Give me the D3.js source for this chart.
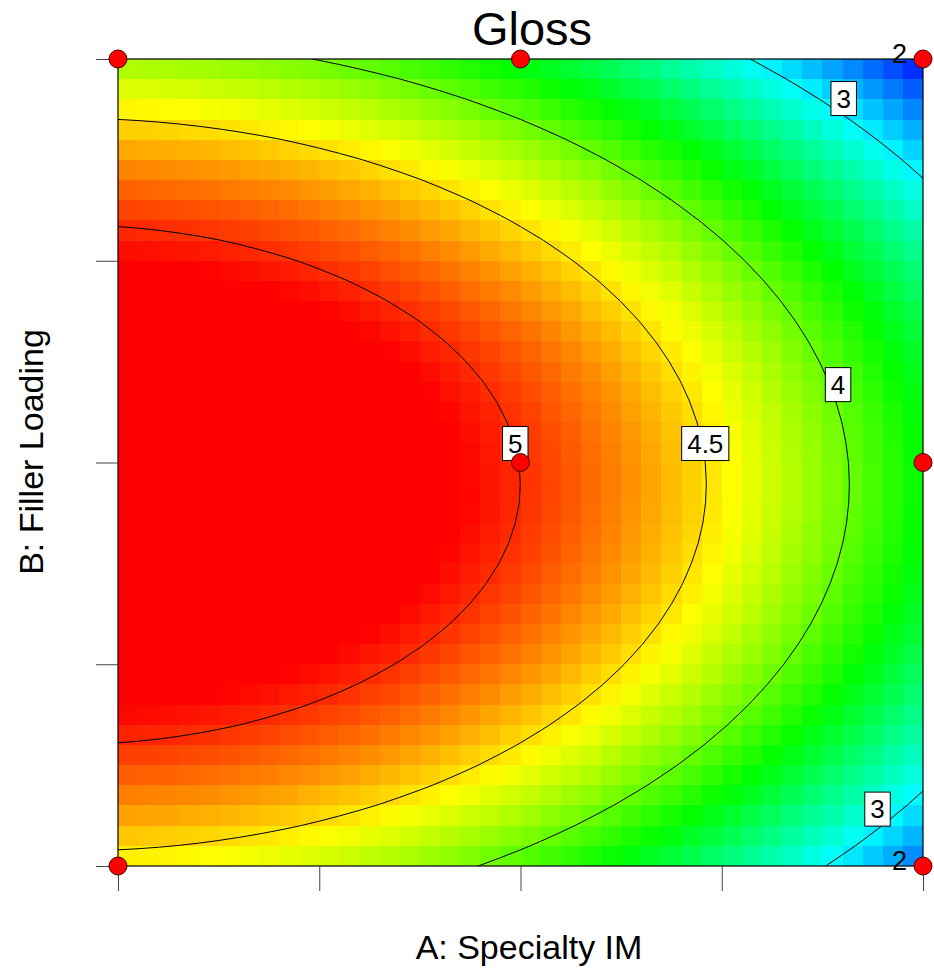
<!DOCTYPE html>
<html>
<head>
<meta charset="utf-8">
<script src="https://cdn.jsdelivr.net/npm/d3@7"></script>
<style>
  body { margin: 0; background: #fff; }
  text { font-family: "Liberation Sans", Arial, Helvetica, sans-serif; fill: #000; }
</style>
</head>
<body>
<div id="chart"></div>
<script>
// fitted response surface for Gloss, coded units (-1..1)
const terms = ["Intercept", "A", "B", "AB", "A^2", "B^2"];
const coefficients = [4.996, -0.898, -0.134, 0, -0.398, -1.22];

// contour lines and where their labels sit (coded A, B)
const contourLevels = [3, 4, 4.5, 5];
const labelText = ["3", "3", "4", "4.5", "5"];
const labelA = [0.803, 0.887, 0.789, 0.459, -0.013];
const labelB = [0.902, -0.859, 0.193, 0.047, 0.047];

// design points, with number of replicate runs
const designA = [-1, 0, 1, 1, 0, -1, 1];
const designB = [1, 1, 1, 0, 0, -1, -1];
const replicates = [1, 1, 2, 1, 1, 1, 2];

const axisTicks = [-1, -0.5, 0, 0.5, 1];
const colorDomain = [2.32, 5.12];
const colorRange = ["#0000ff", "#00ffff", "#00ff00", "#ffff00", "#ff0000"];
const gridSize = 40;

const width = 934, height = 968;
const plot = { left: 118, right: 923, top: 59, bottom: 866 };

const svg = d3.select("#chart").append("svg")
    .attr("width", width)
    .attr("height", height);

const x = d3.scaleLinear().domain([-1, 1]).range([plot.left, plot.right]);
const y = d3.scaleLinear().domain([-1, 1]).range([plot.bottom, plot.top]);

const stops = colorRange.map((c, i) => colorDomain[0] + i * (colorDomain[1] - colorDomain[0]) / (colorRange.length - 1));
const color = d3.scaleLinear().domain(stops).range(colorRange).clamp(true);

function predict(a, b) {
    const row = [1, a, b, a * b, a * a, b * b];
    return d3.sum(row, (v, i) => v * coefficients[i]);
}

// colour cells
const step = 2 / gridSize;
const centers = d3.range(gridSize).map(i => -1 + (i + 0.5) * step);
const cells = centers.flatMap(b => centers.map(a => ({ a, b, v: predict(a, b) })));

svg.append("g")
    .selectAll("rect")
    .data(cells)
    .join("rect")
    .attr("x", d => x(d.a - step / 2))
    .attr("y", d => y(d.b + step / 2))
    .attr("width", d => x(d.a + step / 2) - x(d.a - step / 2))
    .attr("height", d => y(d.b - step / 2) - y(d.b + step / 2))
    .attr("fill", d => color(d.v))
    .attr("shape-rendering", "crispEdges");

// contour lines on the grid nodes
const nodes = d3.range(gridSize + 1).map(i => -1 + i * step);
const values = [];
nodes.slice().reverse().forEach(b => nodes.forEach(a => values.push(predict(a, b))));

const contours = d3.contours()
    .size([gridSize + 1, gridSize + 1])
    .thresholds(contourLevels)(values);

const gx = d3.scaleLinear().domain([0.5, gridSize + 0.5]).range([x(-1), x(1)]);
const gy = d3.scaleLinear().domain([0.5, gridSize + 0.5]).range([y(1), y(-1)]);
const path = d3.geoPath(d3.geoTransform({
    point(px, py) { this.stream.point(gx(px), gy(py)); }
}));

svg.append("clipPath").attr("id", "plot-clip")
    .append("rect")
    .attr("x", plot.left).attr("y", plot.top)
    .attr("width", plot.right - plot.left)
    .attr("height", plot.bottom - plot.top);

svg.append("g")
    .attr("clip-path", "url(#plot-clip)")
    .selectAll("path")
    .data(contours)
    .join("path")
    .attr("d", path)
    .attr("fill", "none")
    .attr("stroke", "#000")
    .attr("stroke-width", 1);

// frame
svg.append("rect")
    .attr("x", plot.left).attr("y", plot.top)
    .attr("width", plot.right - plot.left)
    .attr("height", plot.bottom - plot.top)
    .attr("fill", "none")
    .attr("stroke", "#000")
    .attr("stroke-width", 1.2);

// ticks, no labels
svg.append("g")
    .attr("transform", `translate(0,${plot.bottom})`)
    .call(d3.axisBottom(x).tickValues(axisTicks).tickSize(25).tickFormat(""))
    .call(g => g.select(".domain").remove())
    .call(g => g.selectAll("line").attr("stroke", "#444"));

svg.append("g")
    .attr("transform", `translate(${plot.left},0)`)
    .call(d3.axisLeft(y).tickValues(axisTicks).tickSize(22).tickFormat(""))
    .call(g => g.select(".domain").remove())
    .call(g => g.selectAll("line").attr("stroke", "#444"));

// contour labels
const labels = svg.append("g")
    .selectAll("g")
    .data(labelText.map((t, i) => ({ t, a: labelA[i], b: labelB[i] })))
    .join("g")
    .attr("transform", d => `translate(${x(d.a)},${y(d.b)})`);

labels.append("rect");
labels.append("text")
    .attr("text-anchor", "middle")
    .attr("y", 9)
    .style("font-size", "26px")
    .text(d => d.t);

labels.each(function() {
    const g = d3.select(this);
    const w = g.select("text").node().getComputedTextLength() + 11;
    g.select("rect")
        .attr("x", -w / 2).attr("y", -17)
        .attr("width", w).attr("height", 34)
        .attr("fill", "#fff")
        .attr("stroke", "#000")
        .attr("stroke-width", 1);
});

// design points
const points = designA.map((a, i) => ({ a, b: designB[i], n: replicates[i] }));

svg.append("g")
    .selectAll("circle")
    .data(points)
    .join("circle")
    .attr("cx", d => x(d.a))
    .attr("cy", d => y(d.b))
    .attr("r", 9)
    .attr("fill", "#ff0000")
    .attr("stroke", "#400")
    .attr("stroke-width", 1);

svg.append("g")
    .selectAll("text")
    .data(points.filter(d => d.n > 1))
    .join("text")
    .attr("x", d => x(d.a) - 16)
    .attr("y", d => y(d.b) + 4)
    .attr("text-anchor", "end")
    .style("font-size", "27px")
    .text(d => d.n);

// titles
svg.append("text")
    .attr("x", 532).attr("y", 45)
    .attr("text-anchor", "middle")
    .style("font-size", "47px")
    .text("Gloss");

svg.append("text")
    .attr("x", 529).attr("y", 959)
    .attr("text-anchor", "middle")
    .style("font-size", "34px")
    .text("A: Specialty IM");

svg.append("text")
    .attr("transform", "translate(43,452) rotate(-90)")
    .attr("text-anchor", "middle")
    .style("font-size", "34px")
    .text("B: Filler Loading");
</script>
</body>
</html>
